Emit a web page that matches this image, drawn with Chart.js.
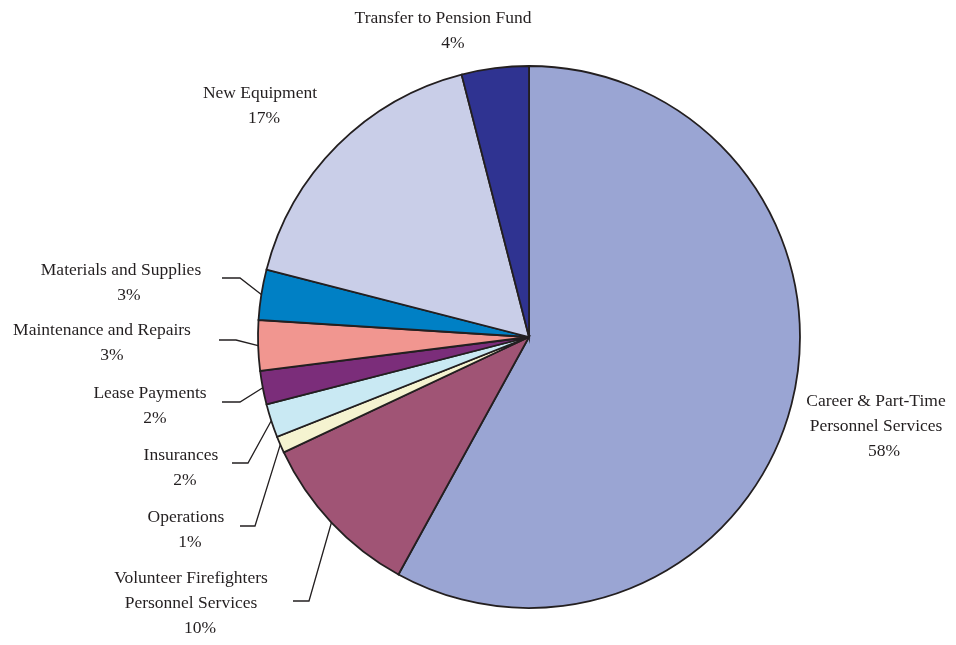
<!DOCTYPE html>
<html>
<head>
<meta charset="utf-8">
<script src="https://cdn.jsdelivr.net/npm/chart.js@4/dist/chart.umd.min.js"></script>
<style>
  html, body { margin: 0; padding: 0; background: #ffffff; }
  #wrap { width: 956px; height: 645px; position: relative; }
</style>
</head>
<body>
<div id="wrap"><canvas id="pie" width="956" height="645"></canvas></div>
<script>
// Fire department budget allocation (percent of total), clockwise from 12 o'clock
const categories = [
  ['Career & Part-Time', 'Personnel Services'],
  ['Volunteer Firefighters', 'Personnel Services'],
  ['Operations'],
  ['Insurances'],
  ['Lease Payments'],
  ['Maintenance and Repairs'],
  ['Materials and Supplies'],
  ['New Equipment'],
  ['Transfer to Pension Fund']
];
const shares = [58, 10, 1, 2, 2, 3, 3, 17, 4];
const sliceColors = [
  '#9aa5d3', '#a05475', '#f5f3d0', '#c9e9f3', '#7b2d7a',
  '#f19690', '#0080c5', '#c9cee8', '#2f3391'
];

// Label placement: x = centre of text block, y = middle of first line,
// pctDx = nudge of the percentage line,
// leader = horizontal stub [xStart, xEnd, y] joined to the slice's outer midpoint.
const labelLayout = [
  { x: 876, y: 401, pctDx: 8,  leader: null },
  { x: 191, y: 578, pctDx: 9,  leader: [293, 309, 601] },
  { x: 186, y: 517, pctDx: 4,  leader: [240, 255, 526] },
  { x: 181, y: 455, pctDx: 4,  leader: [232, 248, 463] },
  { x: 150, y: 393, pctDx: 5,  leader: [222, 240, 402] },
  { x: 102, y: 330, pctDx: 10, leader: [219, 236, 340] },
  { x: 121, y: 270, pctDx: 8,  leader: [222, 240, 278] },
  { x: 260, y: 93,  pctDx: 4,  leader: null },
  { x: 443, y: 18,  pctDx: 10, leader: null }
];

const FONT = '17.5px "Liberation Serif", "Times New Roman", serif';
const INK = '#231f20';
const LINE_H = 25;

const calloutPlugin = {
  id: 'callouts',
  afterDatasetsDraw(chart) {
    const ctx = chart.ctx;
    const meta = chart.getDatasetMeta(0);
    const data = chart.data.datasets[0].data;
    const total = data.reduce((a, b) => a + b, 0);
    ctx.save();
    // leader lines
    ctx.strokeStyle = INK;
    ctx.lineWidth = 1.3;
    meta.data.forEach((arc, i) => {
      const lay = labelLayout[i];
      if (!lay.leader) return;
      const { x, y, startAngle, endAngle, outerRadius } = arc.getProps(
        ['x', 'y', 'startAngle', 'endAngle', 'outerRadius'], true);
      const mid = (startAngle + endAngle) / 2;
      const px = x + Math.cos(mid) * outerRadius;
      const py = y + Math.sin(mid) * outerRadius;
      const [x1, x2, ly] = lay.leader;
      ctx.beginPath();
      ctx.moveTo(x1, ly);
      ctx.lineTo(x2, ly);
      ctx.lineTo(px, py);
      ctx.stroke();
    });
    // text
    ctx.fillStyle = INK;
    ctx.font = FONT;
    ctx.textAlign = 'center';
    ctx.textBaseline = 'middle';
    categories.forEach((lines, i) => {
      const lay = labelLayout[i];
      lines.forEach((t, k) => {
        ctx.fillText(t, lay.x, lay.y + k * LINE_H);
      });
      const pct = Math.round(data[i] / total * 100) + '%';
      ctx.fillText(pct, lay.x + lay.pctDx, lay.y + lines.length * LINE_H);
    });
    ctx.restore();
  }
};

new Chart(document.getElementById('pie'), {
  type: 'pie',
  data: {
    labels: categories.map(l => l.join(' ')),
    datasets: [{
      data: shares,
      backgroundColor: sliceColors,
      borderColor: INK,
      borderWidth: 1.8,
      borderJoinStyle: 'miter'
    }]
  },
  options: {
    responsive: false,
    animation: false,
    devicePixelRatio: 1,
    radius: 271,
    rotation: 0,
    layout: { padding: { left: 102, top: 29, right: 0, bottom: 0 } },
    events: [],
    plugins: {
      legend: { display: false },
      tooltip: { enabled: false }
    }
  },
  plugins: [calloutPlugin]
});
</script>
</body>
</html>
